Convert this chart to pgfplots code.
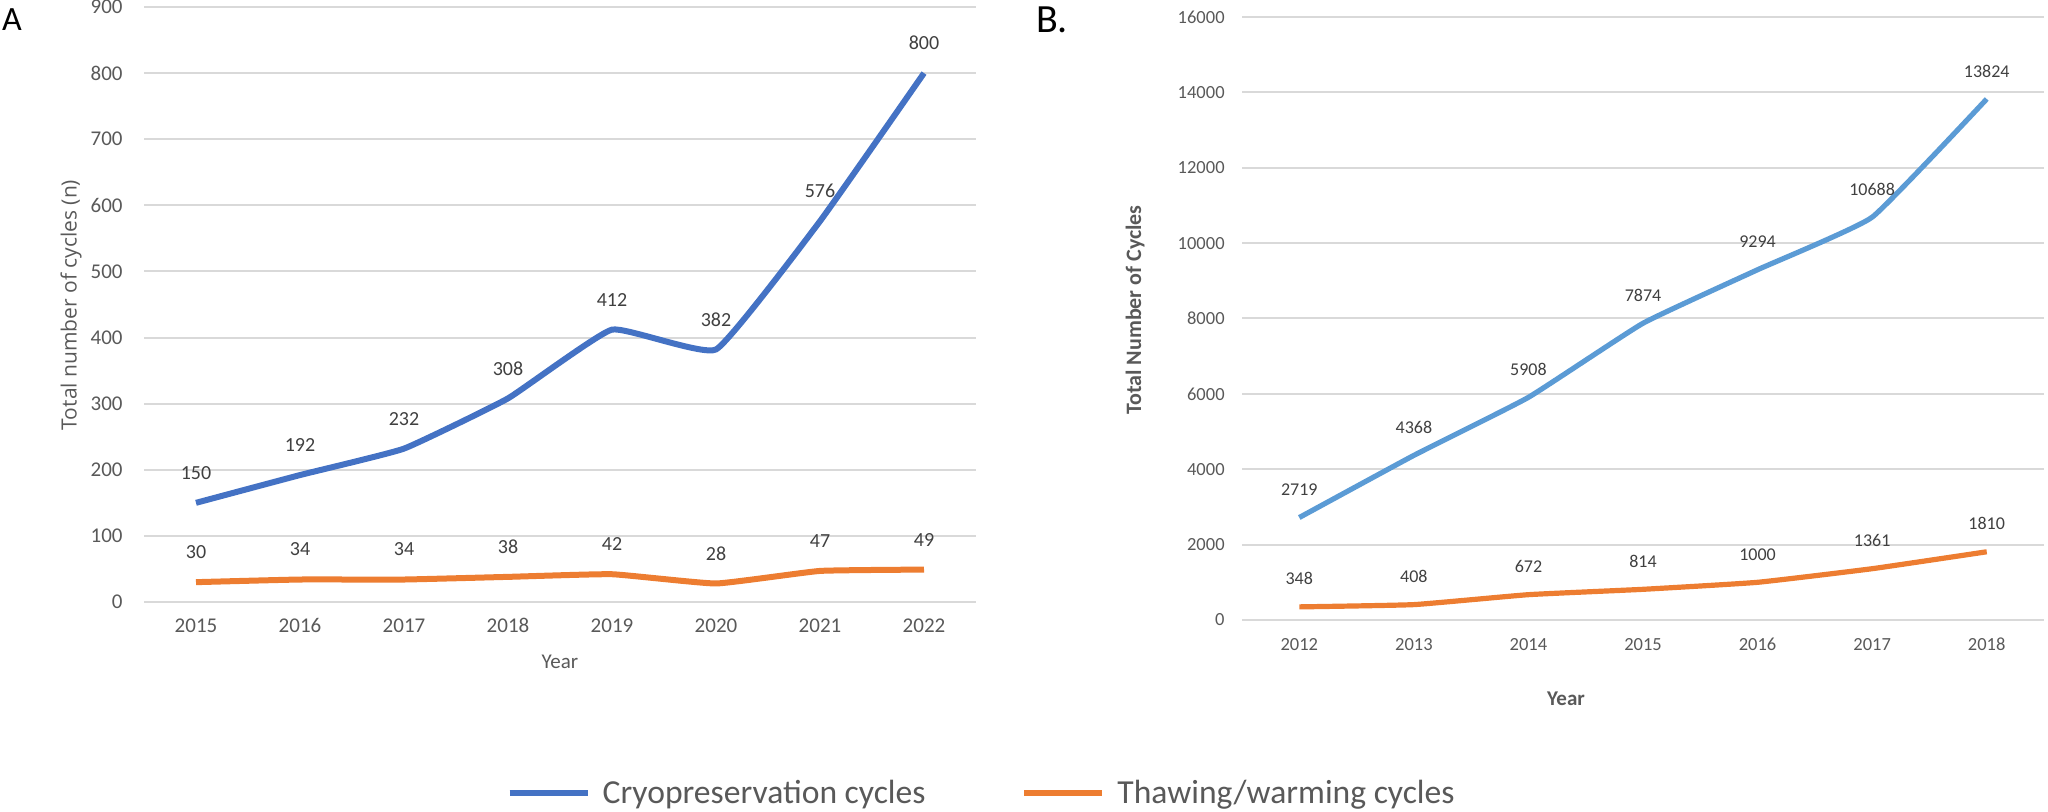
\documentclass[border=0pt]{standalone}
\usepackage{pgfplots}
\usepackage{pgfplotstable}
\pgfplotsset{compat=1.18}
\usepackage{fontspec}
\setmainfont{Carlito}
\newfontfamily\segoe{Open Sans}

\definecolor{cryoA}{HTML}{4472C4}
\definecolor{cryoB}{HTML}{5B9BD5}
\definecolor{thaw}{HTML}{ED7D31}
\definecolor{gridc}{HTML}{D9D9D9}
\definecolor{ticktext}{HTML}{595959}
\definecolor{labeltext}{HTML}{404040}

% panel A, 2015-2022
\pgfplotstableread{
year cryo thaw
2015 150 30
2016 192 34
2017 232 34
2018 308 38
2019 412 42
2020 382 28
2021 576 47
2022 800 49
}\dataA

% panel B, 2012-2018
\pgfplotstableread{
year cryo thaw
2012 2719 348
2013 4368 408
2014 5908 672
2015 7874 814
2016 9294 1000
2017 10688 1361
2018 13824 1810
}\dataB

\pgfplotsset{
  excel/.style={
    scale only axis,
    anchor=south west,
    axis line style={draw=none},
    major tick length=0pt,
    tick style={draw=none},
    ymajorgrids,
    grid style={gridc, line width=1pt},
    xtick=data,
    scaled y ticks=false,
    /pgf/number format/1000 sep={},
    /pgf/number format/assume math mode=true,
    xticklabel style={anchor=base, inner sep=0pt, yshift=-15.25pt},
    ticklabel style={text=ticktext},
    every node near coord/.append style={anchor=center, inner sep=0pt, text=labeltext},
    clip=false,
  },
}

\begin{document}
\begin{tikzpicture}
\path[use as bounding box] (0,0) rectangle (1024pt,406pt);

\begin{axis}[excel,
  at={(72pt,105pt)}, width=416pt, height=297.5pt,
  xmin=2014.5, xmax=2022.5,
  ymin=0, ymax=900, ytick={0,100,...,900},
  yticklabel style={anchor=east, inner sep=0pt, xshift=-10.5pt},
  ticklabel style={font=\fontsize{10.5}{12}\selectfont},
  every node near coord/.append style={font=\fontsize{10}{12}\selectfont, yshift=15pt},
  legend columns=2,
  legend style={at={(axis description cs:1.008,-0.321)}, anchor=center, draw=none,
    font=\fontsize{16.8}{19}\selectfont, text=ticktext,
    /tikz/every odd column/.append style={column sep=4pt},
    /tikz/every even column/.append style={column sep=46pt}},
  legend image code/.code={\draw[#1] (0pt,0pt) -- (39pt,0pt);},
]
\addplot[cryoA, line width=3pt, smooth, tension=0.22, forget plot,
  nodes near coords, point meta=explicit symbolic]
  table[x=year, y=cryo, meta=cryo] {\dataA};
\addplot[thaw, line width=3pt, smooth, tension=0.22, forget plot,
  nodes near coords, point meta=explicit symbolic]
  table[x=year, y=thaw, meta=thaw] {\dataA};
\addlegendimage{cryoA, line width=3pt}
\addlegendentry{Cryopreservation cycles}
\addlegendimage{thaw, line width=3pt}
\addlegendentry{Thawing/warming cycles}
\end{axis}

\begin{axis}[excel,
  at={(621pt,96pt)}, width=401pt, height=301.5pt,
  xmin=2011.5, xmax=2018.5,
  ymin=0, ymax=16000, ytick={0,2000,...,16000},
  yticklabel style={anchor=east, inner sep=0pt, xshift=-8.5pt},
  ticklabel style={font=\fontsize{9.25}{11}\selectfont},
  every node near coord/.append style={font=\fontsize{9}{11}\selectfont, yshift=14pt},
]
\addplot[cryoB, line width=2.6pt, smooth, tension=0.22,
  nodes near coords, point meta=explicit symbolic]
  table[x=year, y=cryo, meta=cryo] {\dataB};
\addplot[thaw, line width=2.6pt, smooth, tension=0.22,
  nodes near coords, point meta=explicit symbolic]
  table[x=year, y=thaw, meta=thaw] {\dataB};
\end{axis}

% axis titles and panel letters
\node[rotate=90, text=ticktext, font=\segoe\fontsize{10.5}{12}\selectfont] at (35.5pt,253.5pt) {Total number of cycles (n)};
\node[text=ticktext, font=\fontsize{10.5}{12}\selectfont] at (280pt,75pt) {Year};
\node[rotate=90, text=ticktext, font=\bfseries\fontsize{11}{13}\selectfont] at (567.5pt,251pt) {Total Number of Cycles};
\node[text=ticktext, font=\bfseries\fontsize{10.5}{12}\selectfont] at (783pt,56.5pt) {Year};
\node[font=\fontsize{17}{20}\selectfont] at (6pt,396pt) {A};
\node[font=\fontsize{20}{24}\selectfont] at (526pt,396pt) {B.};
\end{tikzpicture}
\end{document}
